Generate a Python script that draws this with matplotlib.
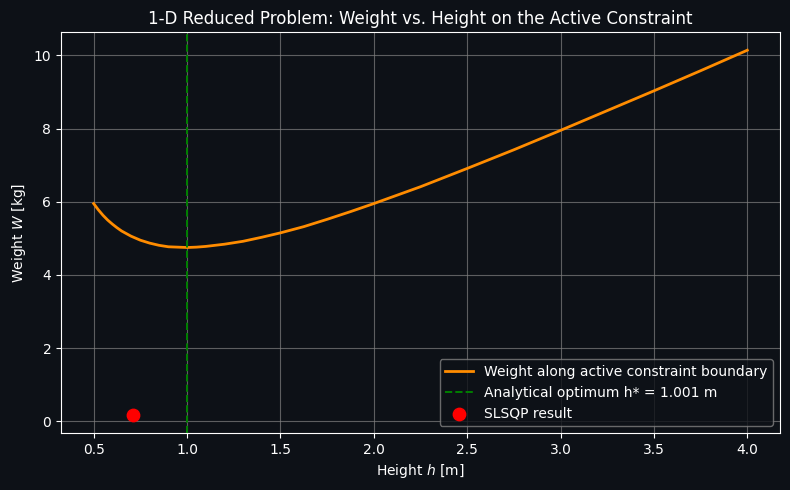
import matplotlib
matplotlib.use("Agg")
import matplotlib.pyplot as plt

# weight along the active constraint boundary
heights = [0.5, 0.525, 0.55, 0.575, 0.6, 0.625, 0.65, 0.675, 0.7, 0.75,
           0.8, 0.85, 0.9, 0.95, 1.0, 1.05, 1.1, 1.2, 1.3, 1.4, 1.5, 1.625,
           1.75, 1.875, 2.0, 2.25, 2.5, 2.75, 3.0, 3.25, 3.5, 3.75, 4.0]
weights = [5.95, 5.78, 5.63, 5.50, 5.39, 5.29, 5.20, 5.13, 5.06, 4.95,
           4.87, 4.81, 4.77, 4.76, 4.75, 4.76, 4.78, 4.84, 4.92, 5.03, 5.15,
           5.32, 5.52, 5.73, 5.95, 6.41, 6.91, 7.42, 7.95, 8.49, 9.03, 9.58,
           10.14]
h_opt = 1.001
slsqp_h = 0.71
slsqp_w = 0.18

bg = "#0d1117"
plt.style.use("dark_background")
fig, ax = plt.subplots(figsize=(7.9, 4.9), dpi=100)
fig.patch.set_facecolor(bg)
ax.set_facecolor(bg)

ax.plot(heights, weights, color="darkorange", lw=2,
        label="Weight along active constraint boundary")
ax.axvline(h_opt, color="green", ls="--", lw=1.4,
           label=f"Analytical optimum h* = {h_opt:.3f} m")
ax.scatter([slsqp_h], [slsqp_w], color="red", s=80, zorder=5,
           label="SLSQP result")

ax.set_xlabel("Height $h$ [m]")
ax.set_ylabel("Weight $W$ [kg]")
ax.set_title("1-D Reduced Problem: Weight vs. Height on the Active Constraint")
ax.grid(True, color="gray", alpha=0.7, lw=0.8)
leg = ax.legend(loc="lower right", facecolor=bg, edgecolor="gray")

fig.subplots_adjust(left=0.0772, right=0.9873, top=0.9347, bottom=0.1163)
fig.savefig("out.png", facecolor=bg)
